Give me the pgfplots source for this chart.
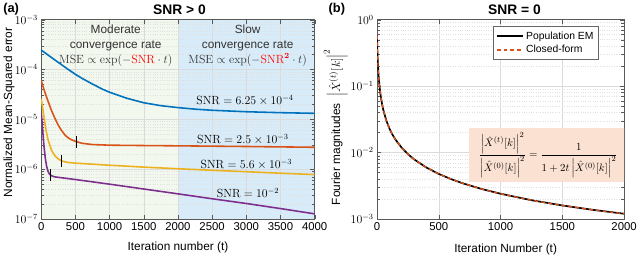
\documentclass[border=0pt]{standalone}
\usepackage[no-math]{fontspec}
\setmainfont{Liberation Sans}
\usepackage{amsmath}
\usepackage{pgfplots}
\pgfplotsset{compat=1.18}
\definecolor{mblue}{HTML}{0072BD}
\definecolor{morange}{HTML}{D95319}
\definecolor{myellow}{HTML}{EDB120}
\definecolor{mpurple}{HTML}{7E2F8E}
\definecolor{bggreen}{HTML}{F2F8EE}
\definecolor{bgblue}{HTML}{D7EBF8}
\definecolor{peach}{HTML}{FBE1D2}
\begin{document}
\begin{tikzpicture}
% ---------- (a) ----------
\begin{axis}[
  set layers=standard,
  scale only axis,
  ymode=log,
  axis line style={black!65},
  tick style={black!65},
  tick align=inside,
  grid=both,
  major grid style={black!14},
  minor grid style={black!12, dotted},
  yticklabel style={font=\fontsize{12}{12}\selectfont},
  xticklabel style={font=\fontsize{11.5}{12}\selectfont},
  at={(0pt,0pt)}, anchor=south west,
  width=277pt, height=202pt,
  xmin=0, xmax=4000, ymin=1e-7, ymax=1e-3,
  xtick={0,500,...,4000},
  xticklabels={0,500,1000,1500,2000,2500,3000,3500,4000},
  ytick={1e-7,1e-6,1e-5,1e-4,1e-3},
]
\addplot[fill=bggreen, draw=none, on layer=axis background] coordinates {(0,1e-7)(0,1e-3)(2000,1e-3)(2000,1e-7)} -- cycle;
\addplot[fill=bgblue, draw=none, on layer=axis background] coordinates {(2000,1e-7)(2000,1e-3)(4000,1e-3)(4000,1e-7)} -- cycle;
\addplot[mblue, line width=1.6pt] coordinates {(0,2.45e-4)(100,1.95e-4)(200,1.55e-4)(300,1.24e-4)(400,9.9e-5)(500,8.0e-5)(600,6.6e-5)(750,5.1e-5)(900,4.0e-5)(1000,3.5e-5)(1250,2.65e-5)(1500,2.15e-5)(1750,1.88e-5)(2000,1.72e-5)(2250,1.6e-5)(2500,1.52e-5)(3000,1.42e-5)(3500,1.36e-5)(4000,1.32e-5)};
\addplot[morange, line width=1.6pt] coordinates {(0,6e-5)(25,4.6e-5)(50,3.6e-5)(100,2.3e-5)(150,1.5e-5)(200,1.05e-5)(250,7.6e-6)(300,5.9e-6)(350,4.8e-6)(400,4.2e-6)(450,3.85e-6)(520,3.55e-6)(600,3.3e-6)(750,3.12e-6)(1000,3.03e-6)(1500,2.98e-6)(2000,2.94e-6)(3000,2.85e-6)(4000,2.75e-6)};
\addplot[myellow, line width=1.6pt] coordinates {(0,2.6e-5)(25,1.55e-5)(50,9.0e-6)(75,5.6e-6)(100,3.9e-6)(150,2.4e-6)(200,1.85e-6)(250,1.6e-6)(292,1.48e-6)(350,1.4e-6)(400,1.36e-6)(500,1.32e-6)(750,1.26e-6)(1000,1.2e-6)(1500,1.1e-6)(2000,1.02e-6)(2500,9.5e-7)(3000,8.9e-7)(3500,8.3e-7)(4000,7.8e-7)};
\addplot[mpurple, line width=1.6pt] coordinates {(0,1.37e-5)(10,9.5e-6)(20,6.3e-6)(40,2.9e-6)(60,1.65e-6)(80,1.12e-6)(100,9.0e-7)(120,8.0e-7)(140,7.5e-7)(170,7.2e-7)(200,7.0e-7)(500,6.2e-7)(1000,5.0e-7)(1500,4.0e-7)(2000,3.2e-7)(2500,2.55e-7)(3000,2.05e-7)(3500,1.62e-7)(4000,1.27e-7)};
\addplot[only marks, mark=|, mark size=6pt, mark options={line width=1pt, black}] coordinates {(520,3.55e-6)(292,1.48e-6)(140,7.5e-7)};
\node[align=center, font=\fontsize{12}{15}\selectfont, text=black!80] at (axis cs:1090,3.0e-4) {Moderate\\convergence rate\\$\mathrm{MSE}\propto\exp(-\textcolor{red}{\mathrm{SNR}}\cdot t)$};
\node[align=center, font=\fontsize{12}{15}\selectfont, text=black!80] at (axis cs:3020,3.0e-4) {Slow\\convergence rate\\$\mathrm{MSE}\propto\exp(-\textcolor{red}{\mathrm{SNR}^{\mathbf{2}}}\cdot t)$};
\node[font=\fontsize{12}{12}\selectfont] at (axis cs:2980,2.4e-5) {$\mathrm{SNR}=6.25\times10^{-4}$};
\node[font=\fontsize{12}{12}\selectfont] at (axis cs:2950,3.9e-6) {$\mathrm{SNR}=2.5\times10^{-3}$};
\node[font=\fontsize{12}{12}\selectfont] at (axis cs:3000,1.25e-6) {$\mathrm{SNR}=5.6\times10^{-3}$};
\node[font=\fontsize{12}{12}\selectfont] at (axis cs:3025,3.3e-7) {$\mathrm{SNR}=10^{-2}$};
\end{axis}
% ---------- (b) ----------
\begin{axis}[
  scale only axis,
  ymode=log,
  axis line style={black!65},
  tick style={black!65},
  tick align=inside,
  grid=both,
  major grid style={black!14},
  minor grid style={black!12, dotted},
  yticklabel style={font=\fontsize{12}{12}\selectfont},
  xticklabel style={font=\fontsize{11.5}{12}\selectfont},
  at={(340.2pt,0pt)}, anchor=south west,
  width=250.3pt, height=202pt,
  xmin=0, xmax=2000, ymin=1e-3, ymax=1,
  xtick={0,500,...,2000},
  xticklabels={0,500,1000,1500,2000},
  ytick={1e-3,1e-2,1e-1,1},
  legend style={at={(0.897,0.966)}, anchor=north east, font=\fontsize{10.5}{13}\selectfont, draw=black!60, inner sep=3pt, row sep=1pt},
  legend cell align=left,
  legend image code/.code={\draw[#1] (0pt,0pt) -- (27pt,0pt);},
]
\addplot[black, line width=1.7pt] coordinates {(0,0.58)(2,0.391)(5,0.263)(10,0.170)(15,0.126)(20,0.0997)(30,0.0705)(40,0.0545)(50,0.0444)(75,0.0304)(100,0.0231)(125,0.0186)(150,0.0156)(200,0.01179)(250,0.00947)(300,0.00791)(400,0.00595)(500,0.00477)(600,0.00398)(700,0.00342)(850,0.00282)(1000,0.00240)(1250,0.00192)(1500,0.00160)(1750,0.001372)(2000,0.001201)};
\addlegendentry{Population EM}
\addplot[morange, line width=1.4pt, dash pattern=on 4pt off 3pt] coordinates {(0,0.58)(2,0.391)(5,0.263)(10,0.170)(15,0.126)(20,0.0997)(30,0.0705)(40,0.0545)(50,0.0444)(75,0.0304)(100,0.0231)(125,0.0186)(150,0.0156)(200,0.01179)(250,0.00947)(300,0.00791)(400,0.00595)(500,0.00477)(600,0.00398)(700,0.00342)(850,0.00282)(1000,0.00240)(1250,0.00192)(1500,0.00160)(1750,0.001372)(2000,0.001201)};
\addlegendentry{Closed-form}
\node[fill=peach, minimum width=161pt, minimum height=55pt, inner sep=2pt, font=\fontsize{11}{13}\selectfont] at (axis cs:1385,9.1e-3) {$\dfrac{\left|\hat{X}^{(t)}[k]\right|^2}{\left|\hat{X}^{(0)}[k]\right|^2}=\dfrac{1}{1+2t\left|\hat{X}^{(0)}[k]\right|^2}$};
\end{axis}
% ---------- labels ----------
\node[font=\bfseries\fontsize{13}{13}\selectfont] at (-30.5pt,212.5pt) {(a)};
\node[font=\bfseries\fontsize{14}{14}\selectfont] at (140pt,212.5pt) {SNR > 0};
\node[font=\bfseries\fontsize{13}{13}\selectfont] at (299.5pt,212.5pt) {(b)};
\node[font=\bfseries\fontsize{14}{14}\selectfont] at (479.5pt,212.5pt) {SNR = 0};
\node[font=\fontsize{12}{12}\selectfont] at (138.5pt,-29pt) {Iteration number (t)};
\node[font=\fontsize{12}{12}\selectfont] at (470.5pt,-31pt) {Iteration Number (t)};
\node[font=\fontsize{12}{12}\selectfont, rotate=90] at (-32.5pt,108pt) {Normalized Mean-Squared error};
\node[font=\fontsize{12}{12}\selectfont, rotate=90] at (298.5pt,93pt) {Fourier magnitudes\ \ {\fontsize{13}{13}\selectfont$\left|\hat{X}^{(t)}[k]\right|^2$}};
\useasboundingbox (-40.5pt,-37.5pt) rectangle (599.5pt,220.5pt);
\end{tikzpicture}
\end{document}
